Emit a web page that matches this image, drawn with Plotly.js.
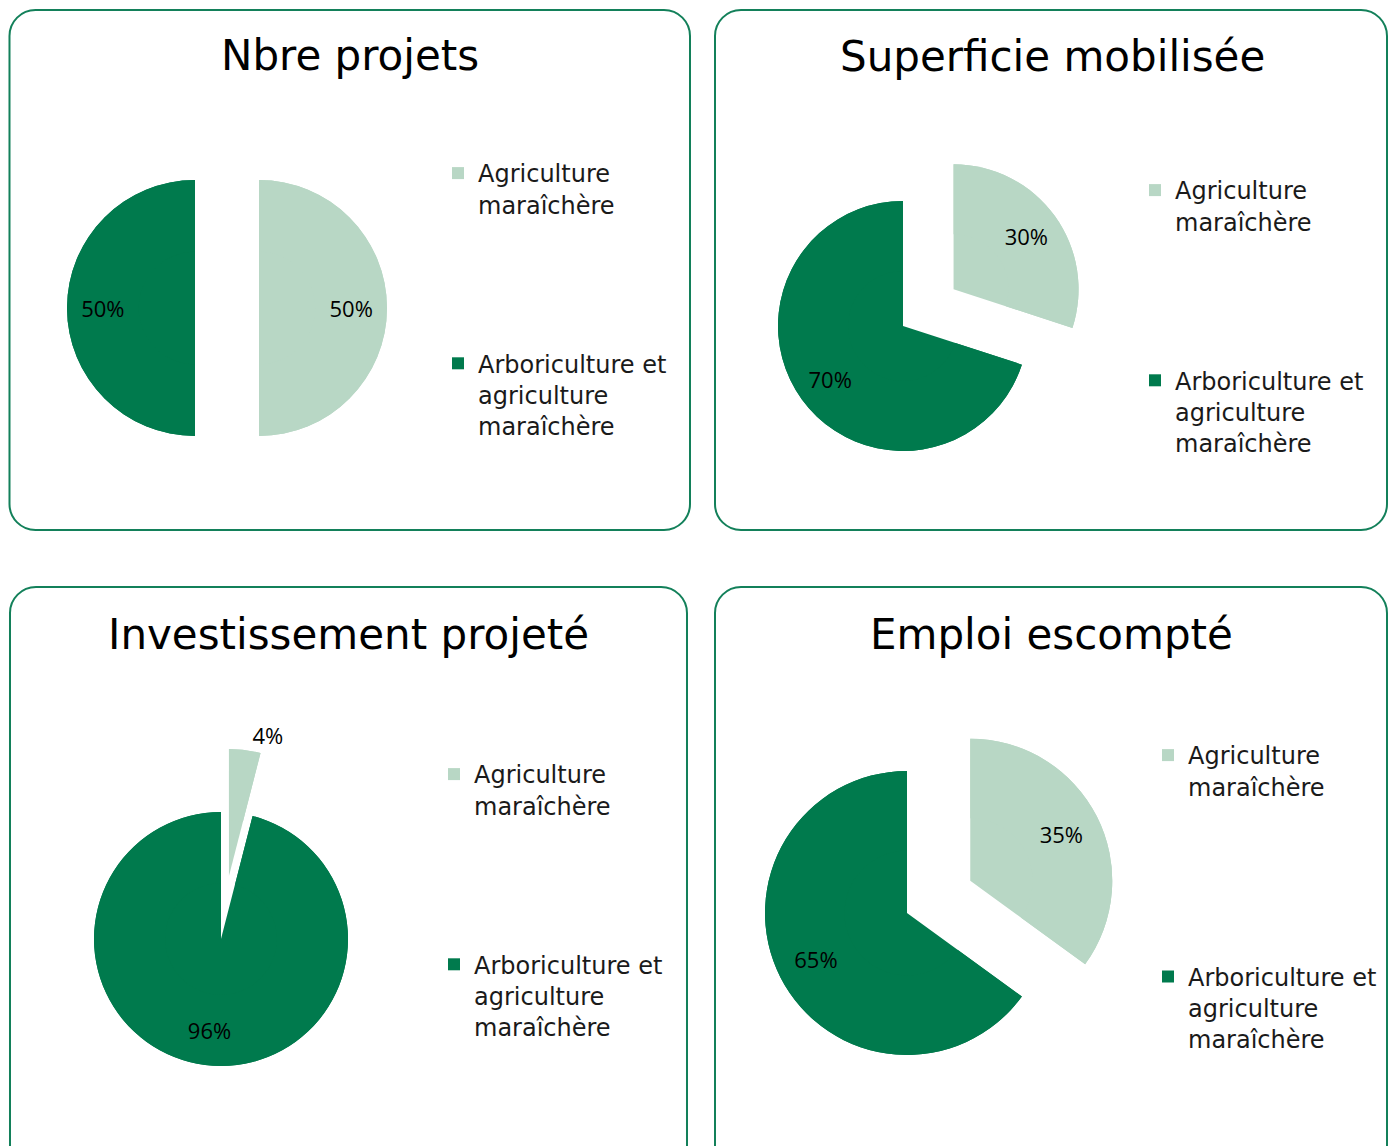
<!DOCTYPE html>
<html>
<head>
<meta charset="utf-8">
<script src="https://cdn.plot.ly/plotly-3.0.1.min.js"></script>
<style>html,body{margin:0;padding:0;background:#fff;}#chart{width:1392px;height:1146px;}</style>
</head>
<body>
<div id="chart"></div>
<script>
// ---- data ----
const categories = ['Agriculture maraîchère', 'Arboriculture et agriculture maraîchère'];
const chartTitles = ['Nbre projets', 'Superficie mobilisée', 'Investissement projeté', 'Emploi escompté'];
const nbreProjets = [50, 50];
const superficieMobilisee = [30, 70];
const investissementProjete = [4, 96];
const emploiEscompte = [35, 65];
const sliceColors = ['#B8D7C5', '#007A4D'];

// ---- layout helpers ----
const W = 1392, H = 1146;
const PX = v => v / W, PY = v => 1 - v / H;

function wrap(s, max) {
  const words = s.split(' '); const lines = []; let cur = '';
  words.forEach(w => {
    if (cur && (cur + ' ' + w).length > max) { lines.push(cur); cur = w; }
    else cur = cur ? cur + ' ' + w : w;
  });
  if (cur) lines.push(cur);
  return lines;
}
// legend labels: wrapped text, first entry padded with blank lines for spacing,
// zero-width spaces keep labels unique per chart (pie legends merge equal labels)
function legendLabels(padLines, idx) {
  const tag = '\u200b'.repeat(idx + 1);
  return categories.map((c, i) => {
    const lines = wrap(c, 16);
    if (i === 0) { while (lines.length < padLines) lines.push('\u00a0'); }
    return lines.join('<br>') + tag;
  });
}
function rrect(x0, y0, x1, y1, r) {
  const k = 0.5523 * r;
  const X = v => PX(v).toFixed(5), Y = v => PY(v).toFixed(5);
  return `M${X(x0 + r)},${Y(y0)} L${X(x1 - r)},${Y(y0)} ` +
    `C${X(x1 - r + k)},${Y(y0)} ${X(x1)},${Y(y0 + r - k)} ${X(x1)},${Y(y0 + r)} ` +
    `L${X(x1)},${Y(y1 - r)} C${X(x1)},${Y(y1 - r + k)} ${X(x1 - r + k)},${Y(y1)} ${X(x1 - r)},${Y(y1)} ` +
    `L${X(x0 + r)},${Y(y1)} C${X(x0 + r - k)},${Y(y1)} ${X(x0)},${Y(y1 - r + k)} ${X(x0)},${Y(y1 - r)} ` +
    `L${X(x0)},${Y(y0 + r)} C${X(x0)},${Y(y0 + r - k)} ${X(x0 + r - k)},${Y(y0)} ${X(x0 + r)},${Y(y0)} Z`;
}

const panels = [
  { values: nbreProjets, cx: 195, cy: 308, r: 128, legend: 'legend', lx: 438, ly: 151, pad: 6,
    box: [9.5, 10, 690, 530], tx: 350, ty: 56 },
  { values: superficieMobilisee, cx: 903, cy: 326, r: 125, legend: 'legend2', lx: 1135, ly: 168, pad: 6,
    box: [715, 10, 1387, 530], tx: 1052, ty: 57 },
  { values: investissementProjete, cx: 221, cy: 939, r: 127, legend: 'legend3', lx: 434, ly: 752, pad: 6,
    box: [10, 587, 687, 1180], tx: 349, ty: 634 },
  { values: emploiEscompte, cx: 907, cy: 913, r: 142, legend: 'legend4', lx: 1148, ly: 733, pad: 7,
    box: [715, 587, 1387, 1180], tx: 1051, ty: 634 }
];

const pctFont = { family: 'Open Sans, sans-serif', size: 22, color: '#000' };
const domainOf = p => {
  const hs = 1.5 * p.r;
  return { x: [PX(p.cx - hs), PX(p.cx + hs)], y: [PY(p.cy + hs), PY(p.cy - hs)] };
};
const common = p => ({
  type: 'pie', values: p.values, sort: false, direction: 'clockwise', rotation: 0,
  pull: [0.5, 0], marker: { colors: sliceColors, line: { width: 0 } },
  hoverinfo: 'none', domain: domainOf(p)
});
// full (solid) pies underneath
const baseTraces = panels.map((p, i) => Object.assign(common(p), {
  labels: categories.map(c => c + ' base' + i),
  textinfo: 'none', showlegend: false
}));
// labelled pies on top (ring carries percent text, placed like the original)
const labelTraces = panels.map((p, i) => Object.assign(common(p), {
  labels: legendLabels(p.pad, i),
  hole: 0.44,
  texttemplate: '%{percent:.0%}',
  textposition: 'auto',
  insidetextorientation: 'horizontal',
  textfont: pctFont, insidetextfont: pctFont, outsidetextfont: pctFont,
  legend: p.legend
}));

const layout = {
  width: W, height: H,
  margin: { l: 0, r: 0, t: 0, b: 0 },
  paper_bgcolor: '#fff',
  showlegend: true,
  shapes: panels.map(p => ({
    type: 'path', xref: 'paper', yref: 'paper',
    path: rrect(p.box[0], p.box[1], p.box[2], p.box[3], 26),
    line: { color: '#13805A', width: 2 }, fillcolor: 'rgba(0,0,0,0)', layer: 'below'
  })),
  annotations: panels.map((p, i) => ({
    xref: 'paper', yref: 'paper', x: PX(p.tx), y: PY(p.ty),
    xanchor: 'center', yanchor: 'middle', showarrow: false,
    text: chartTitles[i],
    font: { family: 'DejaVu Sans, sans-serif', size: 42, color: '#000' }
  }))
};
panels.forEach(p => {
  layout[p.legend] = {
    x: PX(p.lx), y: PY(p.ly), xanchor: 'left', yanchor: 'top',
    valign: 'top', bgcolor: 'rgba(0,0,0,0)', borderwidth: 0,
    font: { family: 'DejaVu Sans, sans-serif', size: 24, color: '#1a1a1a' },
    traceorder: 'normal'
  };
});

Plotly.newPlot('chart', baseTraces.concat(labelTraces), layout, { staticPlot: true, displayModeBar: false });
</script>
</body>
</html>
